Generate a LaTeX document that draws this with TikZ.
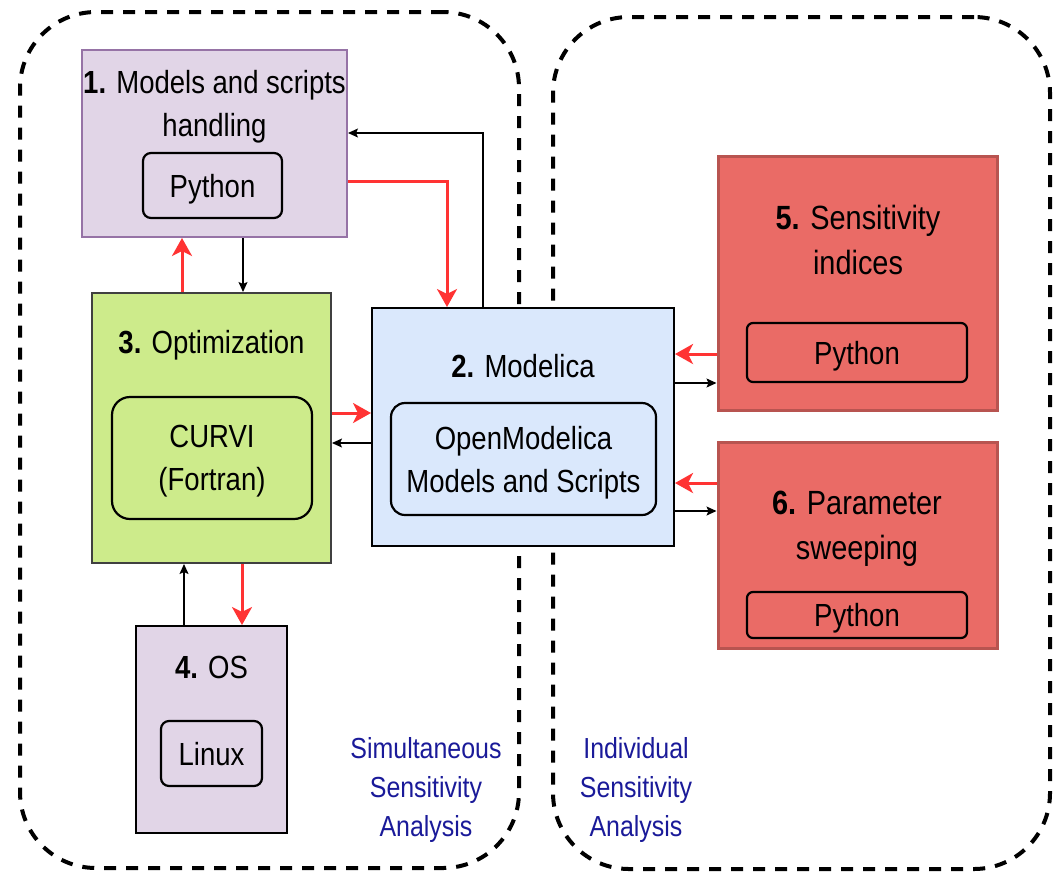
\documentclass[tikz,border=0pt]{standalone}
\usepackage{fontspec}
\setmainfont[FakeStretch=0.86]{Liberation Sans}
\usepackage{xcolor}
\definecolor{cPurple}{HTML}{E1D5E7}
\definecolor{cPurpleLine}{HTML}{9673A6}
\definecolor{cGreen}{HTML}{CDEB8B}
\definecolor{cGreenLine}{HTML}{404040}
\definecolor{cBlue}{HTML}{DAE8FC}
\definecolor{cRed}{HTML}{EA6B66}
\definecolor{cRedLine}{HTML}{B85450}
\definecolor{cArrow}{HTML}{FF3333}
\definecolor{cLabel}{HTML}{1A1A99}
\usepackage{tikz}
\usetikzlibrary{arrows.meta}
\tikzset{
  node-box/.style={draw,line width=1pt,inner sep=0pt},
  node-purple/.style={fill=cPurple,draw=cPurpleLine},
  node-green/.style={fill=cGreen,draw=cGreenLine},
  node-blue/.style={fill=cBlue,draw=black},
  node-red/.style={fill=cRed,draw=cRedLine,line width=1.5pt},
  node-inner/.style={draw=black,line width=1.1pt,rounded corners=4pt,align=center,inner sep=0pt,text depth=0pt},
  node-title/.style={align=center,inner sep=0pt,text depth=0pt},
  region/.style={draw=black,line width=2pt,dash pattern=on 6pt off 5pt,rounded corners=38pt,inner sep=0pt},
  region-label/.style={text=cLabel,align=center,inner sep=0pt,text depth=0pt,font=\fontsize{14.5}{19.3}\selectfont},
  arrow/.style={-{Stealth[length=5pt,width=4.5pt,inset=1pt]},line width=0.6pt,draw=black},
  arrow-red/.style={-{Stealth[length=9pt,width=10pt,inset=2.5pt]},line width=1.5pt,draw=cArrow},
}

\begin{document}
\begin{tikzpicture}[x=0.5pt,y=-0.5pt,every node/.append style={font=\fontsize{16}{21.5}\selectfont}]
  \useasboundingbox (0,0) rectangle (1058,873);
  % two analysis regions
  \node[region,minimum width=249.5pt,minimum height=428pt] (simreg) at (269.5,440) {};
  \node[region,minimum width=248.5pt,minimum height=426pt] (indreg) at (801.5,443) {};
  \node[region-label] (simlabel) at (426,787) {Simultaneous\\Sensitivity\\Analysis};
  \node[region-label] (indlabel) at (636,787) {Individual\\Sensitivity\\Analysis};

  % 1. models and scripts
  \node[node-box,node-purple,minimum width=132.5pt,minimum height=93.5pt] (models) at (214.5,143.5) {};
  \node[node-title] (models-t) at (214.5,103) {\textbf{1.} Models and scripts\\handling};
  \node[node-inner,minimum width=69.5pt,minimum height=32.5pt] (models-py) at (212.5,185.5) {Python};

  % 3. optimization
  \node[node-box,node-green,minimum width=119.5pt,minimum height=135pt] (optim) at (211.5,428) {};
  \node[node-title] (optim-t) at (211.5,342) {\textbf{3.} Optimization};
  \node[node-inner,rounded corners=9pt,minimum width=100pt,minimum height=61pt] (curvi) at (212,458) {CURVI\\(Fortran)};

  % 2. modelica
  \node[node-box,node-blue,minimum width=151pt,minimum height=119pt] (modelica) at (523,427) {};
  \node[node-title] (modelica-t) at (523,366) {\textbf{2.} Modelica};
  \node[node-inner,rounded corners=7pt,minimum width=132.5pt,minimum height=56pt] (omc) at (523.5,459) {OpenModelica\\Models and Scripts};

  % 4. OS
  \node[node-box,node-purple,draw=black,minimum width=75.5pt,minimum height=103.5pt] (os) at (211.5,729.5) {};
  \node[node-title] (os-t) at (211.5,667) {\textbf{4.} OS};
  \node[node-inner,minimum width=50.5pt,minimum height=32.5pt] (linux) at (211.5,753.5) {Linux};

  % 5. sensitivity indices / 6. parameter sweeping
  \node[node-box,node-red,minimum width=139.5pt,minimum height=127pt] (sens) at (857.5,283) {};
  \node[node-title,font=\fontsize{16.8}{22.5}\selectfont] (sens-t) at (858,240) {\textbf{5.} Sensitivity\\indices};
  \node[node-inner,rounded corners=3pt,minimum width=110pt,minimum height=29.5pt] (sens-py) at (857,352.5) {Python};
  \node[node-box,node-red,minimum width=139.5pt,minimum height=103pt] (sweep) at (857.5,545) {};
  \node[node-title,font=\fontsize{16.8}{22.5}\selectfont] (sweep-t) at (857,525) {\textbf{6.} Parameter\\sweeping};
  \node[node-inner,rounded corners=3pt,minimum width=110pt,minimum height=23pt] (sweep-py) at (857,615) {Python};

  % connectors
  \draw[arrow-red] (models.east |- 0,181) -| (modelica.north -| 447,0);
  \draw[arrow] (modelica.north -| 483,0) |- (models.east |- 0,133);
  \draw[arrow-red] (optim.north -| 182,0) -- (models.south -| 182,0);
  \draw[arrow] (models.south -| 243,0) -- (optim.north -| 243,0);
  \draw[arrow-red] (optim.east |- 0,413) -- (modelica.west |- 0,413);
  \draw[arrow] (modelica.west |- 0,443) -- (optim.east |- 0,443);
  \draw[arrow] (os.north -| 184,0) -- (optim.south -| 184,0);
  \draw[arrow-red] (optim.south -| 242,0) -- (os.north -| 242,0);
  \draw[arrow-red] (sens.west |- 0,354) -- (modelica.east |- 0,354);
  \draw[arrow] (modelica.east |- 0,383) -- (sens.west |- 0,383);
  \draw[arrow-red] (sweep.west |- 0,483) -- (modelica.east |- 0,483);
  \draw[arrow] (modelica.east |- 0,511) -- (sweep.west |- 0,511);
\end{tikzpicture}
\end{document}
